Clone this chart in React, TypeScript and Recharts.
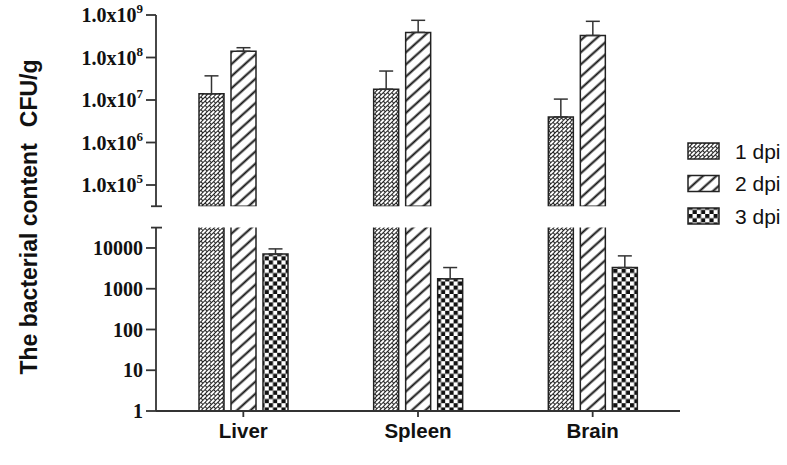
import React from "react";
import { BarChart, Bar, XAxis, YAxis, ErrorBar } from "recharts";

const categories = ["Liver", "Spleen", "Brain"];
const seriesNames = ["1 dpi", "2 dpi", "3 dpi"];
const dpi1 = [1.4e7, 1.8e7, 4.0e6];
const dpi1Err = [2.3e7, 3.0e7, 6.5e6];
const dpi2 = [1.4e8, 3.9e8, 3.3e8];
const dpi2Err = [3.0e7, 3.6e8, 3.8e8];
const dpi3 = [7100, 1760, 3300];
const dpi3Err = [2400, 1550, 3100];

const upperTicks = [1e5, 1e6, 1e7, 1e8, 1e9];
const lowerTicks = [1, 10, 100, 1000, 10000];
// value where the y axis is broken (~10^4.5)
const BREAK = 31623;

const rows = categories.map((name, i) => ({
  name,
  d1: dpi1[i],
  e1: [0, dpi1Err[i]],
  d2: dpi2[i],
  e2: [0, dpi2Err[i]],
  d3: dpi3[i],
  e3: [0, dpi3Err[i]],
}));

// only show a bar in the upper segment when it reaches past the break
const aboveBreak = (key: string) => (r: any) => (r[key] > BREAK ? r[key] : null);

const PATTERNS = ["pat1", "pat2", "pat3"];
const AXIS = "#333";
const TICK_LEN = 10;
const TICK_GAP = 3;

function YTick(props: any) {
  const { x, y, payload, sci } = props;
  const axisX = x + TICK_LEN + TICK_GAP;
  const v = payload.value;
  if (v === BREAK) {
    return <line x1={axisX - 5} x2={axisX + 6} y1={y} y2={y} stroke={AXIS} strokeWidth={1.8} />;
  }
  const exp = Math.round(Math.log10(v));
  return (
    <g>
      <line x1={axisX - TICK_LEN} x2={axisX} y1={y} y2={y} stroke={AXIS} strokeWidth={1.8} />
      <text
        x={x}
        y={y}
        dy="0.36em"
        textAnchor="end"
        fontFamily="'Liberation Serif', 'Times New Roman', serif"
        fontWeight="bold"
        fontSize={20}
        fill="#111"
      >
        {sci ? (
          <>
            1.0x10
            <tspan dy={-9} fontSize={13}>
              {exp}
            </tspan>
          </>
        ) : (
          String(v)
        )}
      </text>
    </g>
  );
}

export default function App() {
  const barProps = { stroke: "#222", strokeWidth: 1.5, isAnimationActive: false };
  return (
    <div style={{ position: "relative", width: 787, height: 465, background: "#fff" }}>
      <style>{"body{margin:0}"}</style>
      <svg width={0} height={0} style={{ position: "absolute" }}>
        <defs>
          <pattern id="pat1" patternUnits="userSpaceOnUse" width="6" height="6" patternTransform="rotate(-45)">
            <rect width="6" height="6" fill="#fff" />
            <path d="M0 0.5H6 M0 3.5H6 M1.5 0.5V3.5 M4.5 3.5V6.5" stroke="#222" strokeWidth="1.1" fill="none" />
          </pattern>
          <pattern id="pat2" patternUnits="userSpaceOnUse" width="9" height="9" patternTransform="rotate(-42)">
            <rect width="9" height="9" fill="#fff" />
            <line x1="0" x2="9" y1="4.5" y2="4.5" stroke="#111" strokeWidth="2" />
          </pattern>
          <pattern id="pat3" patternUnits="userSpaceOnUse" width="8.4" height="8.4">
            <rect width="8.4" height="8.4" fill="#fff" />
            <rect width="4.2" height="4.2" fill="#111" />
            <rect x="4.2" y="4.2" width="4.2" height="4.2" fill="#111" />
          </pattern>
        </defs>
      </svg>

      {/* upper segment: 10^4.5 .. 10^9 */}
      <div style={{ position: "absolute", left: 0, top: 0 }}>
        <BarChart
          width={787}
          height={215}
          data={rows}
          margin={{ top: 15, right: 107, bottom: 8.75, left: 0 }}
          barSize={25}
          barGap={7}
        >
          <XAxis dataKey="name" hide />
          <YAxis
            width={156}
            type="number"
            scale="log"
            domain={[BREAK, 1e9]}
            allowDataOverflow
            ticks={[BREAK, ...upperTicks]}
            interval={0}
            tickLine={false}
            tickSize={TICK_LEN}
            tickMargin={TICK_GAP}
            axisLine={{ stroke: AXIS, strokeWidth: 1.8 }}
            tick={<YTick sci />}
          />
          <Bar dataKey={aboveBreak("d1")} fill="url(#pat1)" {...barProps}>
            <ErrorBar dataKey="e1" width={7} stroke={AXIS} strokeWidth={1.5} direction="y" />
          </Bar>
          <Bar dataKey={aboveBreak("d2")} fill="url(#pat2)" {...barProps}>
            <ErrorBar dataKey="e2" width={7} stroke={AXIS} strokeWidth={1.5} direction="y" />
          </Bar>
          <Bar dataKey={aboveBreak("d3")} fill="url(#pat3)" {...barProps} />
        </BarChart>
      </div>

      {/* lower segment: 1 .. 10^4.5 */}
      <div style={{ position: "absolute", left: 0, top: 0 }}>
        <BarChart
          width={787}
          height={465}
          data={rows}
          margin={{ top: 227.6, right: 107, bottom: 14, left: 0 }}
          barSize={25}
          barGap={7}
        >
          <XAxis
            dataKey="name"
            height={40}
            tickSize={6}
            tickMargin={6}
            axisLine={{ stroke: AXIS, strokeWidth: 1.8 }}
            tickLine={{ stroke: AXIS, strokeWidth: 1.8 }}
            tick={{
              fill: "#111",
              fontSize: 20.5,
              fontWeight: "bold",
              fontFamily: "'Liberation Sans', Arial, sans-serif",
            }}
          />
          <YAxis
            width={156}
            type="number"
            scale="log"
            domain={[1, BREAK]}
            allowDataOverflow
            ticks={[...lowerTicks, BREAK]}
            interval={0}
            tickLine={false}
            tickSize={TICK_LEN}
            tickMargin={TICK_GAP}
            axisLine={{ stroke: AXIS, strokeWidth: 1.8 }}
            tick={<YTick />}
          />
          <Bar dataKey="d1" fill="url(#pat1)" {...barProps} />
          <Bar dataKey="d2" fill="url(#pat2)" {...barProps} />
          <Bar dataKey="d3" fill="url(#pat3)" {...barProps}>
            <ErrorBar dataKey="e3" width={7} stroke={AXIS} strokeWidth={1.5} direction="y" />
          </Bar>
        </BarChart>
      </div>

      {/* y axis title */}
      <svg width={60} height={465} style={{ position: "absolute", left: 0, top: 0 }}>
        <text
          x={37}
          y={217}
          transform="rotate(-90 37 217)"
          textAnchor="middle"
          fontFamily="'Liberation Sans', Arial, sans-serif"
          fontWeight="bold"
          fontSize={23}
          fill="#111"
        >
          The bacterial content
          <tspan dx={16}>CFU/g</tspan>
        </text>
      </svg>

      {/* legend */}
      <svg width={110} height={100} style={{ position: "absolute", left: 680, top: 130 }}>
        {seriesNames.map((s, i) => {
          const cy = 21 + i * 32.5;
          return (
            <g key={s}>
              <rect x={8} y={cy - 8} width={31} height={16} fill={`url(#${PATTERNS[i]})`} stroke="#222" strokeWidth={1.5} />
              <text
                x={55}
                y={cy}
                dy="0.36em"
                fontFamily="'Liberation Sans', Arial, sans-serif"
                fontSize={21}
                fill="#111"
              >
                {s}
              </text>
            </g>
          );
        })}
      </svg>
    </div>
  );
}
